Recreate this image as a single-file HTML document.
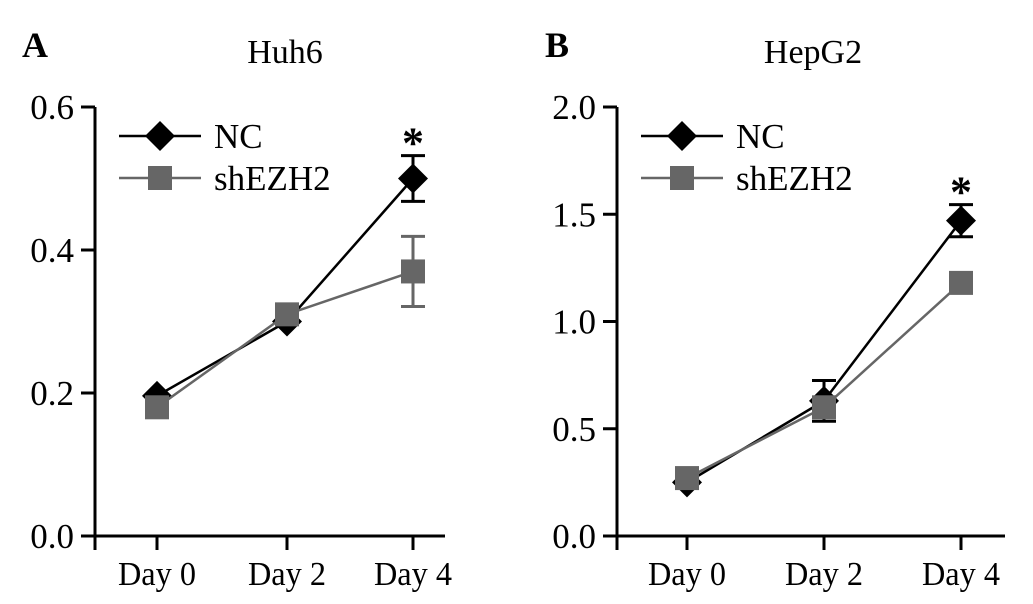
<!DOCTYPE html>
<html><head><meta charset="utf-8"><style>
body{margin:0;background:#fff;}
svg text{font-family:"Liberation Serif",serif;fill:#000;}
</style></head><body>
<svg id="c" width="1033" height="599" viewBox="0 0 1033 599" xmlns="http://www.w3.org/2000/svg"></svg>
<script>
const categories=["Day 0","Day 2","Day 4"];
const aTicks=[0.0,0.2,0.4,0.6];
const aTickLabels=["0.0","0.2","0.4","0.6"];
const aNC=[0.196,0.30,0.50];
const aNCerr=[0,0,0.032];
const aSh=[0.18,0.31,0.37];
const aShErr=[0,0,0.049];
const bTicks=[0.0,0.5,1.0,1.5,2.0];
const bTickLabels=["0.0","0.5","1.0","1.5","2.0"];
const bNC=[0.25,0.63,1.47];
const bNCerr=[0,0.095,0.075];
const bSh=[0.27,0.60,1.18];
const bShErr=[0,0,0];
const NS="http://www.w3.org/2000/svg";
const svg=document.getElementById('c');
function mk(t,a,p){const e=document.createElementNS(NS,t);for(const k in a)e.setAttribute(k,a[k]);(p||svg).appendChild(e);return e;}
function panel(o){
  const g=mk('g',{});
  
  
  const y=v=>536-(v/o.max)*429;
  const x=i=>o.xs[i];
  mk('line',{x1:o.ax,y1:107,x2:o.ax,y2:537,stroke:'#000','stroke-width':3},g);
  mk('line',{x1:o.ax-1,y1:536,x2:o.xend,y2:536,stroke:'#000','stroke-width':3},g);
  mk('line',{x1:o.ax,y1:536,x2:o.ax,y2:550,stroke:'#000','stroke-width':3},g);
  o.ticks.forEach((t,i)=>{
    mk('line',{x1:o.ax-14,y1:y(t),x2:o.ax,y2:y(t),stroke:'#000','stroke-width':3},g);
    const tx=mk('text',{x:o.ax-21,y:y(t)+12,'font-size':35,'text-anchor':'end'},g);tx.textContent=o.tickLabels[i];
    
    
  });
  categories.forEach((c,i)=>{
    mk('line',{x1:x(i),y1:536,x2:x(i),y2:550,stroke:'#000','stroke-width':3},g);
    const tx=mk('text',{x:x(i),y:585,'font-size':34,'text-anchor':'middle','textLength':78,'lengthAdjust':'spacingAndGlyphs'},g);tx.textContent=c;
    
    
  });
  function series(vals,errs,col,w,shape,nm){
    const sg=mk('g',{},g);
    
    
    mk('polyline',{points:vals.map((v,i)=>x(i)+','+y(v)).join(' '),fill:'none',stroke:col,'stroke-width':w},sg);
    vals.forEach((v,i)=>{
      if(errs[i]>0){
        const t=y(v+errs[i]),b=y(v-errs[i]);
        mk('line',{x1:x(i),y1:t,x2:x(i),y2:b,stroke:col,'stroke-width':3},sg);
        mk('line',{x1:x(i)-12,y1:t,x2:x(i)+12,y2:t,stroke:col,'stroke-width':3},sg);
        mk('line',{x1:x(i)-12,y1:b,x2:x(i)+12,y2:b,stroke:col,'stroke-width':3},sg);
      }
      let m;
      if(shape==='d') m=mk('polygon',{points:`${x(i)},${y(v)-15} ${x(i)+15},${y(v)} ${x(i)},${y(v)+15} ${x(i)-15},${y(v)}`,fill:col},sg);
      else m=mk('rect',{x:x(i)-12,y:y(v)-12,width:24,height:24,fill:col},sg);
      
      
    });
  }
  series(o.nc,o.ncErr,'#000',2.5,'d','series-nc');
  series(o.sh,o.shErr,'#666',2.5,'s','series-shezh2');
  const star=mk('text',{x:x(2),y:y(o.nc[2]+o.ncErr[2])+2,'font-size':44,'font-weight':'bold','text-anchor':'middle'},g);star.textContent='*';
  
  
  const lx=o.ax+24;
  const lg=mk('g',{},g);
  
  
  mk('line',{x1:lx,y1:136,x2:lx+82,y2:136,stroke:'#000','stroke-width':2.5},lg);
  mk('polygon',{points:`${lx+41},${121} ${lx+56},136 ${lx+41},151 ${lx+26},136`,fill:'#000'},lg);
  let t=mk('text',{x:lx+95,y:148,'font-size':35},lg);t.textContent='NC';
  mk('line',{x1:lx,y1:178,x2:lx+82,y2:178,stroke:'#666','stroke-width':2.5},lg);
  mk('rect',{x:lx+29,y:166,width:24,height:24,fill:'#666'},lg);
  t=mk('text',{x:lx+95,y:190,'font-size':35},lg);t.textContent='shEZH2';
  const ti=mk('text',{x:o.titleX,y:63,'font-size':34,'text-anchor':'middle'},g);ti.textContent=o.title;
  
  
  const le=mk('text',{x:o.letterX,y:57,'font-size':36,'font-weight':'bold'},g);le.textContent=o.letter;
  
  
}
panel({name:'panel-a-huh6',ax:95,xend:445,xs:[157,287,413],max:0.6,ticks:aTicks,tickLabels:aTickLabels,nc:aNC,ncErr:aNCerr,sh:aSh,shErr:aShErr,title:'Huh6',titleX:285,letter:'A',letterX:22});
panel({name:'panel-b-hepg2',ax:617,xend:1005,xs:[687,824,961],max:2.0,ticks:bTicks,tickLabels:bTickLabels,nc:bNC,ncErr:bNCerr,sh:bSh,shErr:bShErr,title:'HepG2',titleX:813,letter:'B',letterX:545});
</script>
</body></html>
